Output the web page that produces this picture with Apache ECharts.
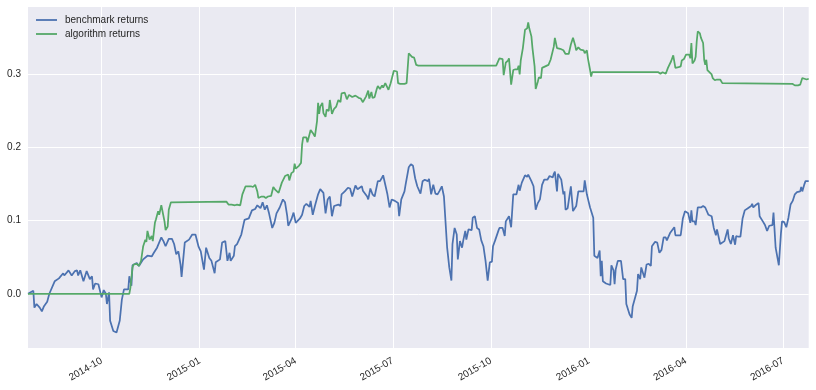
<!DOCTYPE html>
<html><head><meta charset="utf-8">
<script src="https://cdn.jsdelivr.net/npm/echarts@6/dist/echarts.min.js"></script>
<style>html,body{margin:0;padding:0;background:#fff}#c{width:816px;height:390px}</style>
</head><body><div id="c"></div>
<script>
const seriesNames = ['benchmark returns', 'algorithm returns'];

const bmDates = ['2014-07-24','2014-07-29','2014-07-30','2014-08-01','2014-08-04','2014-08-06','2014-08-08','2014-08-11','2014-08-13','2014-08-18','2014-08-22','2014-08-26','2014-08-27','2014-08-31','2014-09-03','2014-09-06','2014-09-08','2014-09-09','2014-09-11','2014-09-14','2014-09-17','2014-09-20','2014-09-22','2014-09-23','2014-09-25','2014-09-28','2014-10-01','2014-10-03','2014-10-05','2014-10-06','2014-10-08','2014-10-09','2014-10-12','2014-10-15','2014-10-18','2014-10-20','2014-10-22','2014-10-26','2014-10-27','2014-10-29','2014-10-30','2014-11-03','2014-11-05','2014-11-09','2014-11-13','2014-11-17','2014-11-19','2014-11-22','2014-11-26','2014-11-28','2014-11-30','2014-12-03','2014-12-06','2014-12-08','2014-12-10','2014-12-12','2014-12-14','2014-12-15','2014-12-18','2014-12-22','2014-12-25','2014-12-28','2014-12-31','2015-01-02','2015-01-05','2015-01-07','2015-01-10','2015-01-12','2015-01-15','2015-01-16','2015-01-20','2015-01-22','2015-01-25','2015-01-27','2015-01-29','2015-01-30','2015-02-02','2015-02-03','2015-02-05','2015-02-06','2015-02-09','2015-02-12','2015-02-16','2015-02-19','2015-02-22','2015-02-24','2015-02-27','2015-03-01','2015-03-03','2015-03-05','2015-03-07','2015-03-10','2015-03-12','2015-03-14','2015-03-17','2015-03-20','2015-03-22','2015-03-24','2015-03-25','2015-03-28','2015-03-30','2015-04-01','2015-04-05','2015-04-07','2015-04-09','2015-04-11','2015-04-14','2015-04-15','2015-04-17','2015-04-19','2015-04-22','2015-04-24','2015-04-27','2015-04-29','2015-05-01','2015-05-03','2015-05-05','2015-05-07','2015-05-11','2015-05-13','2015-05-14','2015-05-17','2015-05-20','2015-05-22','2015-05-24','2015-05-27','2015-05-29','2015-05-31','2015-06-02','2015-06-03','2015-06-07','2015-06-08','2015-06-10','2015-06-12','2015-06-14','2015-06-17','2015-06-19','2015-06-21','2015-06-22','2015-06-24','2015-06-26','2015-06-28','2015-06-30','2015-07-03','2015-07-06','2015-07-07','2015-07-09','2015-07-12','2015-07-13','2015-07-16','2015-07-18','2015-07-20','2015-07-22','2015-07-24','2015-07-27','2015-07-29','2015-07-31','2015-08-03','2015-08-04','2015-08-06','2015-08-08','2015-08-10','2015-08-12','2015-08-14','2015-08-16','2015-08-18','2015-08-21','2015-08-23','2015-08-25','2015-08-26','2015-08-28','2015-08-30','2015-08-31','2015-09-02','2015-09-04','2015-09-05','2015-09-07','2015-09-08','2015-09-10','2015-09-13','2015-09-14','2015-09-16','2015-09-18','2015-09-20','2015-09-22','2015-09-24','2015-09-26','2015-09-28','2015-09-30','2015-10-02','2015-10-03','2015-10-05','2015-10-08','2015-10-09','2015-10-12','2015-10-14','2015-10-15','2015-10-18','2015-10-20','2015-10-22','2015-10-25','2015-10-27','2015-10-28','2015-10-30','2015-11-02','2015-11-04','2015-11-05','2015-11-08','2015-11-10','2015-11-12','2015-11-14','2015-11-16','2015-11-18','2015-11-20','2015-11-23','2015-11-25','2015-11-28','2015-11-29','2015-11-30','2015-12-02','2015-12-03','2015-12-06','2015-12-08','2015-12-09','2015-12-10','2015-12-12','2015-12-15','2015-12-17','2015-12-20','2015-12-22','2015-12-27','2015-12-28','2015-12-30','2016-01-02','2016-01-05','2016-01-06','2016-01-09','2016-01-11','2016-01-12','2016-01-13','2016-01-14','2016-01-17','2016-01-21','2016-01-22','2016-01-24','2016-01-25','2016-01-26','2016-01-28','2016-01-31','2016-02-02','2016-02-04','2016-02-05','2016-02-08','2016-02-10','2016-02-11','2016-02-15','2016-02-16','2016-02-18','2016-02-19','2016-02-22','2016-02-24','2016-02-26','2016-02-28','2016-02-29','2016-03-03','2016-03-05','2016-03-07','2016-03-09','2016-03-11','2016-03-13','2016-03-14','2016-03-17','2016-03-21','2016-03-22','2016-03-27','2016-03-29','2016-03-31','2016-04-03','2016-04-05','2016-04-06','2016-04-07','2016-04-09','2016-04-10','2016-04-12','2016-04-15','2016-04-17','2016-04-19','2016-04-22','2016-04-25','2016-04-27','2016-04-29','2016-04-30','2016-05-03','2016-05-04','2016-05-07','2016-05-08','2016-05-10','2016-05-11','2016-05-13','2016-05-15','2016-05-17','2016-05-18','2016-05-20','2016-05-22','2016-05-24','2016-05-26','2016-05-29','2016-06-01','2016-06-02','2016-06-03','2016-06-05','2016-06-08','2016-06-09','2016-06-12','2016-06-14','2016-06-16','2016-06-18','2016-06-21','2016-06-22','2016-06-24','2016-06-26','2016-06-27','2016-06-29','2016-06-30','2016-07-02','2016-07-04','2016-07-06','2016-07-08','2016-07-10','2016-07-12','2016-07-14','2016-07-17','2016-07-18','2016-07-19','2016-07-21','2016-07-22','2016-07-25'];
const bmValues = [0.000,0.004,-0.019,-0.014,-0.019,-0.024,-0.017,-0.011,0.000,0.017,0.021,0.028,0.025,0.032,0.025,0.031,0.032,0.025,0.032,0.017,0.031,0.020,0.024,0.006,0.014,0.013,-0.005,0.005,0.000,-0.014,0.002,-0.037,-0.051,-0.053,-0.037,-0.008,0.006,0.006,0.024,0.011,0.039,0.042,0.038,0.047,0.052,0.051,0.056,0.063,0.077,0.072,0.065,0.075,0.075,0.068,0.054,0.058,0.040,0.023,0.070,0.074,0.081,0.081,0.064,0.058,0.033,0.063,0.049,0.045,0.028,0.043,0.047,0.070,0.072,0.045,0.056,0.045,0.052,0.065,0.068,0.066,0.081,0.101,0.103,0.114,0.116,0.121,0.117,0.125,0.115,0.121,0.110,0.090,0.097,0.110,0.118,0.129,0.125,0.107,0.093,0.102,0.111,0.097,0.103,0.108,0.120,0.123,0.119,0.127,0.108,0.120,0.136,0.143,0.138,0.110,0.129,0.133,0.106,0.120,0.122,0.120,0.136,0.140,0.145,0.144,0.133,0.148,0.143,0.145,0.147,0.141,0.133,0.129,0.144,0.136,0.133,0.154,0.154,0.159,0.162,0.149,0.136,0.118,0.129,0.127,0.124,0.106,0.129,0.140,0.149,0.173,0.177,0.175,0.158,0.147,0.137,0.154,0.156,0.154,0.157,0.136,0.149,0.137,0.136,0.141,0.147,0.133,0.063,0.036,0.018,0.068,0.090,0.081,0.047,0.072,0.063,0.072,0.086,0.074,0.088,0.087,0.104,0.106,0.090,0.088,0.073,0.065,0.045,0.018,0.043,0.044,0.065,0.073,0.086,0.090,0.090,0.079,0.099,0.106,0.091,0.136,0.136,0.149,0.141,0.152,0.162,0.160,0.163,0.154,0.147,0.115,0.124,0.129,0.149,0.156,0.156,0.161,0.159,0.164,0.167,0.140,0.164,0.156,0.136,0.140,0.115,0.117,0.147,0.113,0.120,0.140,0.140,0.155,0.136,0.118,0.104,0.052,0.049,0.059,0.024,0.045,0.017,0.014,0.012,0.039,0.032,0.013,0.033,0.045,0.045,0.020,0.020,-0.014,-0.028,-0.033,-0.017,0.004,0.027,0.020,0.036,0.022,0.040,0.041,0.038,0.065,0.071,0.070,0.056,0.060,0.077,0.077,0.073,0.083,0.091,0.080,0.080,0.103,0.113,0.110,0.097,0.114,0.099,0.099,0.094,0.118,0.118,0.120,0.118,0.108,0.106,0.090,0.080,0.088,0.068,0.068,0.072,0.073,0.088,0.076,0.068,0.080,0.067,0.079,0.078,0.078,0.103,0.114,0.117,0.120,0.123,0.118,0.121,0.124,0.106,0.099,0.094,0.086,0.093,0.094,0.111,0.063,0.047,0.039,0.083,0.099,0.098,0.091,0.104,0.122,0.127,0.136,0.139,0.140,0.146,0.140,0.150,0.154,0.154];

const algoDates = ['2014-07-24','2014-10-27','2014-10-28','2014-10-30','2014-10-31','2014-11-03','2014-11-05','2014-11-07','2014-11-09','2014-11-11','2014-11-12','2014-11-13','2014-11-15','2014-11-17','2014-11-18','2014-11-20','2014-11-21','2014-11-23','2014-11-24','2014-11-26','2014-11-27','2014-11-29','2014-11-30','2014-12-02','2014-12-03','2014-12-05','2015-01-26','2015-01-28','2015-01-31','2015-02-03','2015-02-05','2015-02-08','2015-02-10','2015-02-13','2015-02-16','2015-02-18','2015-02-20','2015-02-22','2015-02-24','2015-02-25','2015-02-28','2015-03-02','2015-03-04','2015-03-06','2015-03-09','2015-03-11','2015-03-13','2015-03-16','2015-03-17','2015-03-19','2015-03-22','2015-03-25','2015-03-26','2015-03-28','2015-03-30','2015-03-31','2015-04-01','2015-04-04','2015-04-06','2015-04-07','2015-04-08','2015-04-11','2015-04-12','2015-04-15','2015-04-17','2015-04-19','2015-04-21','2015-04-22','2015-04-23','2015-04-24','2015-04-26','2015-04-27','2015-04-29','2015-04-30','2015-05-02','2015-05-03','2015-05-05','2015-05-07','2015-05-09','2015-05-11','2015-05-13','2015-05-14','2015-05-17','2015-05-19','2015-05-21','2015-05-24','2015-05-27','2015-05-30','2015-06-01','2015-06-03','2015-06-06','2015-06-08','2015-06-09','2015-06-11','2015-06-12','2015-06-14','2015-06-16','2015-06-17','2015-06-19','2015-06-21','2015-06-22','2015-06-24','2015-06-25','2015-06-27','2015-06-29','2015-07-02','2015-07-05','2015-07-06','2015-07-08','2015-07-12','2015-07-14','2015-07-16','2015-07-17','2015-07-19','2015-07-21','2015-07-23','2015-07-25','2015-10-06','2015-10-09','2015-10-10','2015-10-12','2015-10-13','2015-10-15','2015-10-17','2015-10-18','2015-10-20','2015-10-22','2015-10-24','2015-10-26','2015-10-27','2015-10-28','2015-10-29','2015-10-31','2015-11-02','2015-11-04','2015-11-05','2015-11-06','2015-11-08','2015-11-09','2015-11-11','2015-11-12','2015-11-14','2015-11-15','2015-11-17','2015-11-18','2015-11-21','2015-11-24','2015-11-26','2015-11-29','2015-11-30','2015-12-02','2015-12-05','2015-12-08','2015-12-10','2015-12-13','2015-12-15','2015-12-17','2015-12-19','2015-12-20','2015-12-22','2015-12-24','2015-12-27','2015-12-28','2015-12-30','2015-12-31','2016-01-02','2016-01-03','2016-01-04','2016-03-06','2016-03-08','2016-03-10','2016-03-13','2016-03-15','2016-03-16','2016-03-18','2016-03-20','2016-03-22','2016-03-25','2016-03-27','2016-03-28','2016-03-30','2016-04-01','2016-04-04','2016-04-05','2016-04-06','2016-04-07','2016-04-09','2016-04-10','2016-04-11','2016-04-12','2016-04-14','2016-04-15','2016-04-17','2016-04-18','2016-04-19','2016-04-20','2016-04-21','2016-04-22','2016-04-25','2016-04-26','2016-04-28','2016-04-30','2016-05-03','2016-05-05','2016-07-10','2016-07-12','2016-07-15','2016-07-17','2016-07-19','2016-07-21','2016-07-23','2016-07-25'];
const algoValues = [0.000,0.000,0.008,0.036,0.040,0.041,0.038,0.045,0.065,0.074,0.071,0.086,0.074,0.079,0.072,0.097,0.102,0.113,0.108,0.121,0.119,0.099,0.087,0.092,0.115,0.125,0.126,0.122,0.122,0.121,0.122,0.121,0.136,0.147,0.147,0.147,0.146,0.149,0.140,0.131,0.133,0.133,0.131,0.133,0.134,0.146,0.142,0.138,0.136,0.152,0.161,0.163,0.155,0.165,0.167,0.178,0.171,0.175,0.179,0.204,0.214,0.214,0.207,0.224,0.220,0.215,0.236,0.261,0.246,0.256,0.261,0.247,0.242,0.252,0.250,0.265,0.246,0.253,0.256,0.265,0.262,0.274,0.275,0.266,0.272,0.269,0.271,0.268,0.267,0.262,0.270,0.278,0.267,0.276,0.268,0.269,0.280,0.284,0.280,0.285,0.282,0.288,0.285,0.279,0.288,0.305,0.304,0.288,0.287,0.287,0.288,0.329,0.327,0.324,0.323,0.313,0.312,0.312,0.322,0.323,0.321,0.299,0.316,0.319,0.322,0.286,0.306,0.307,0.307,0.312,0.300,0.319,0.336,0.361,0.363,0.371,0.363,0.352,0.336,0.311,0.280,0.290,0.296,0.295,0.309,0.311,0.313,0.320,0.338,0.350,0.336,0.335,0.333,0.328,0.328,0.341,0.350,0.340,0.333,0.337,0.334,0.333,0.329,0.333,0.322,0.306,0.297,0.303,0.303,0.301,0.303,0.301,0.309,0.311,0.318,0.326,0.309,0.310,0.311,0.319,0.321,0.327,0.327,0.322,0.343,0.315,0.319,0.324,0.345,0.359,0.356,0.350,0.343,0.320,0.313,0.320,0.306,0.305,0.300,0.295,0.292,0.293,0.293,0.288,0.287,0.285,0.285,0.286,0.295,0.294,0.293,0.294];

const xTickDates = ['2014-10-01','2015-01-01','2015-04-01','2015-07-01','2015-10-01','2016-01-01','2016-04-01','2016-07-01'];
const xRange = ['2014-07-24', '2016-07-25'];
const yTickValues = [0.0, 0.1, 0.2, 0.3];
const yRange = [-0.0742, 0.3922];

function ts(s) { const p = s.split('-').map(Number); return Date.UTC(p[0], p[1] - 1, p[2]); }
function pairs(ds, vs) { return ds.map((d, i) => [ts(d), vs[i]]); }

const textColor = '#262626';
const font = 'Liberation Sans, Arial, sans-serif';
const chart = echarts.init(document.getElementById('c'), null, { renderer: 'canvas' });
chart.setOption({
  animation: false,
  grid: { left: 28, right: 7.3, top: 7, bottom: 42, show: true, backgroundColor: '#EAEAF2', borderWidth: 0, containLabel: false },
  legend: {
    show: true, orient: 'vertical', left: 36, top: 15, padding: 0,
    itemWidth: 21, itemHeight: 10, itemGap: 4,
    icon: 'path://M0,0 L21,0 L21,1.8 L0,1.8 Z', symbolKeepAspect: true,
    textStyle: { color: textColor, fontFamily: font, fontSize: 10, padding: [0, 0, 0, 3] },
    data: seriesNames
  },
  xAxis: {
    type: 'value', min: ts(xRange[0]), max: ts(xRange[1]),
    axisLine: { show: false },
    axisTick: { show: false, customValues: xTickDates.map(ts) },
    axisLabel: {
      customValues: xTickDates.map(ts), rotate: 30, margin: 12,
      color: textColor, fontFamily: font, fontSize: 10,
      formatter: v => { const d = new Date(v); return d.getUTCFullYear() + '-' + String(d.getUTCMonth() + 1).padStart(2, '0'); }
    },
    splitLine: { show: true, lineStyle: { color: '#ffffff', width: 1 } }
  },
  yAxis: {
    type: 'value', min: yRange[0], max: yRange[1],
    axisLine: { show: false },
    axisTick: { show: false, customValues: yTickValues },
    axisLabel: { customValues: yTickValues, margin: 7, color: textColor, fontFamily: font, fontSize: 10, formatter: v => v.toFixed(1) },
    splitLine: { show: true, lineStyle: { color: '#ffffff', width: 1 } }
  },
  series: [
    { name: seriesNames[0], type: 'line', data: pairs(bmDates, bmValues), showSymbol: false, symbol: 'none',
      lineStyle: { color: '#4C72B0', width: 1.75 }, itemStyle: { color: '#4C72B0' }, z: 2 },
    { name: seriesNames[1], type: 'line', data: pairs(algoDates, algoValues), showSymbol: false, symbol: 'none',
      lineStyle: { color: '#55A868', width: 1.75 }, itemStyle: { color: '#55A868' }, z: 3 }
  ]
});
</script></body></html>
